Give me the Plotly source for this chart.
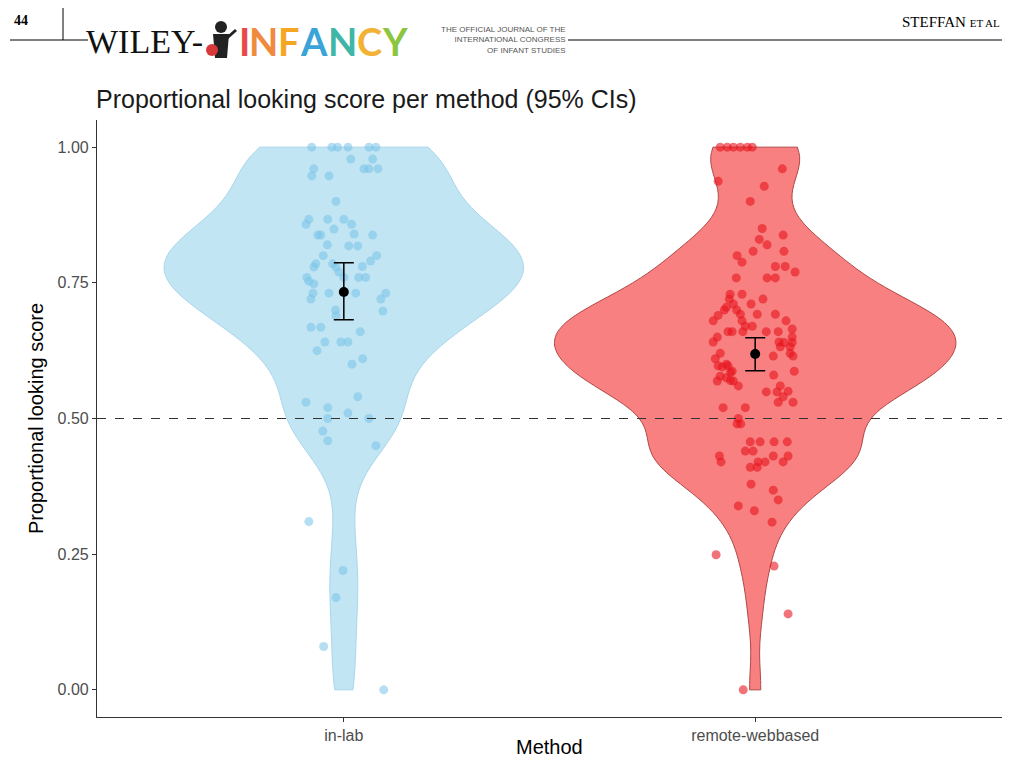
import numpy as np
import plotly.graph_objects as go

# ---------------- data ----------------
categories = ["in-lab", "remote-webbased"]
cat_pos = [1, 2]

inlab_scores = [1.0, 1.0, 1.0, 1.0, 1.0, 1.0, 0.978, 0.978, 0.96, 0.96, 0.96, 0.96,
                0.947, 0.947, 0.90, 0.867, 0.867, 0.867, 0.858, 0.858, 0.849,
                0.84, 0.838, 0.838, 0.838, 0.82, 0.818, 0.818, 0.80, 0.80, 0.79, 0.785, 0.785,
                0.78, 0.779, 0.779, 0.77, 0.76, 0.76, 0.76, 0.76, 0.753, 0.748,
                0.731, 0.731, 0.731, 0.731, 0.72, 0.72, 0.70,
                0.698, 0.689, 0.668, 0.668, 0.66, 0.641, 0.641, 0.641, 0.625, 0.61, 0.60, 0.54, 0.53,
                0.52, 0.51, 0.50, 0.50, 0.477, 0.459, 0.45, 0.31,
                0.22, 0.17, 0.08, 0.0]
inlab_jitter = [-0.078, -0.029, -0.015, 0.010, 0.061, 0.078, 0.017, 0.070, -0.073, 0.049, 0.061, 0.083,
                -0.078, -0.036, -0.019, -0.085, -0.039, 0.0, -0.092, 0.019, -0.024,
                0.025, -0.063, -0.056, 0.070, -0.040, 0.012, 0.034, 0.080, -0.050, 0.065, -0.068, -0.027,
                0.045, -0.073, -0.019, -0.012, -0.090, 0.036, 0.053, 0.0, -0.085, -0.073,
                -0.075, -0.036, 0.029, 0.102, -0.080, 0.090, -0.020,
                0.095, -0.019, -0.080, -0.056, 0.040, -0.046, -0.007, 0.010, -0.065, 0.046, 0.020, 0.034, -0.092,
                -0.039, 0.010, -0.039, 0.061, -0.051, -0.039, 0.078, -0.085,
                -0.002, -0.019, -0.049, 0.097]

remote_scores = [1.0, 1.0, 1.0, 1.0, 1.0, 1.0, 0.96, 0.937, 0.928, 0.90, 0.85, 0.838, 0.83, 0.82,
                 0.808, 0.808, 0.80, 0.788, 0.78, 0.78, 0.77, 0.759, 0.759, 0.759,
                 0.729, 0.729, 0.72, 0.72, 0.711, 0.711, 0.705, 0.70, 0.70, 0.692, 0.692, 0.692, 0.69,
                 0.68, 0.68, 0.68, 0.67, 0.67, 0.665, 0.66, 0.66, 0.66, 0.66, 0.66, 0.65, 0.65,
                 0.641, 0.641, 0.64, 0.64, 0.632, 0.632, 0.62, 0.62, 0.615, 0.615, 0.61, 0.60, 0.597, 0.597,
                 0.595, 0.587, 0.587, 0.585, 0.58, 0.578, 0.575, 0.57, 0.569, 0.569, 0.56, 0.56,
                 0.55, 0.549, 0.549, 0.54, 0.53, 0.53, 0.52, 0.52, 0.50, 0.49, 0.49,
                 0.457, 0.457, 0.457, 0.457, 0.44, 0.44, 0.431, 0.431, 0.431,
                 0.42, 0.42, 0.42, 0.42, 0.41, 0.41, 0.379, 0.368, 0.35, 0.339, 0.33,
                 0.309, 0.249, 0.228, 0.14, 0.0]
remote_jitter = [-0.085, -0.068, -0.053, -0.036, -0.019, -0.007, 0.066, -0.090, 0.022, -0.012, 0.017, 0.068, 0.010, 0.029,
                 -0.005, 0.070, -0.044, -0.032, 0.049, 0.073, 0.097, -0.046, 0.029, 0.049,
                 -0.061, -0.032, -0.063, 0.019, -0.053, -0.010, -0.070, -0.045, -0.075, -0.036, 0.005, 0.049, -0.090,
                 -0.102, -0.032, 0.075, -0.024, -0.007, 0.090, -0.066, -0.056, 0.027, 0.056, -0.030, -0.092, 0.090,
                 -0.102, 0.058, 0.090, 0.070, 0.061, 0.085, 0.085, -0.085, 0.092, 0.044, -0.097, -0.070, -0.090, -0.066,
                 -0.080, -0.056, 0.095, -0.060, 0.045, -0.085, -0.070, -0.060, -0.092, -0.053, -0.041, 0.061,
                 0.080, 0.027, 0.053, 0.068, 0.056, 0.092, -0.078, -0.024, -0.041, -0.044, -0.035,
                 -0.012, 0.012, 0.046, 0.078, -0.024, -0.005, -0.087, 0.044, 0.080,
                 -0.083, 0.007, 0.024, 0.068, -0.012, 0.005, -0.010, 0.044, 0.056, -0.041, -0.002,
                 0.041, -0.095, 0.046, 0.080, -0.029]

means = [0.733, 0.619]
ci_low = [0.682, 0.588]
ci_high = [0.787, 0.649]

y_ticks = [0.0, 0.25, 0.5, 0.75, 1.0]
chance_level = 0.5

# ---------------- styles ----------------
violin_fill = ["#c2e5f4", "#f88080"]
violin_line = ["#a8d6ec", "#b04848"]
point_color = ["rgba(120,195,232,0.55)", "rgba(232,20,30,0.6)"]
violin_width = [0.874, 0.976]
bw_adjust = [1.1, 1.0]

OFF = 8                      # page body offset of the rendered figure
W, H = 1016 - 2 * OFF, 769 - 2 * OFF
L, T = 97 - OFF, 120 - OFF   # screen plot-area left/top = 97 / 120
R = W - (1002 - OFF)         # screen plot-area right = 1002
B = H - (717 - OFF)          # screen plot-area bottom = 717
PW, PH = W - L - R, H - T - B


def px(x):  # screen x -> paper
    return (x - OFF - L) / PW


def py(y):  # screen y -> paper
    return (H - B - (y - OFF)) / PH


def nrd0(v):
    v = np.asarray(v)
    sd = v.std(ddof=1)
    iqr = np.subtract(*np.percentile(v, [75, 25]))
    lo = min(sd, iqr / 1.34) if iqr > 0 else sd
    return 0.9 * lo * len(v) ** (-0.2)


fig = go.Figure()
groups = [(inlab_scores, inlab_jitter), (remote_scores, remote_jitter)]
for i, (vals, jit) in enumerate(groups):
    fig.add_trace(go.Violin(
        x=[cat_pos[i]] * len(vals), y=vals, name=categories[i],
        width=violin_width[i], spanmode="hard", scalemode="width",
        bandwidth=nrd0(vals) * bw_adjust[i],
        fillcolor=violin_fill[i], line=dict(color=violin_line[i], width=1),
        points=False, box_visible=False, meanline_visible=False,
        opacity=1, showlegend=False, hoverinfo="skip"))

for i, (vals, jit) in enumerate(groups):
    fig.add_trace(go.Scatter(
        x=[cat_pos[i] + j for j in jit], y=vals, mode="markers",
        marker=dict(size=9, color=point_color[i], line=dict(width=0)),
        showlegend=False, hoverinfo="skip"))

fig.add_trace(go.Scatter(
    x=cat_pos, y=means, mode="markers",
    marker=dict(size=10, color="black"),
    error_y=dict(type="data", symmetric=False,
                 array=[h - m for h, m in zip(ci_high, means)],
                 arrayminus=[m - l for m, l in zip(means, ci_low)],
                 color="black", thickness=1.5, width=10),
    showlegend=False, hoverinfo="skip"))

shapes = [
    dict(type="line", xref="paper", yref="y", x0=0, x1=1, y0=chance_level, y1=chance_level,
         line=dict(color="#333333", width=1.2, dash="dash"), layer="above"),
    # header rules
    dict(type="line", xref="paper", yref="paper", x0=px(10), x1=px(88), y0=py(40), y1=py(40),
         line=dict(color="black", width=1)),
    dict(type="line", xref="paper", yref="paper", x0=px(63), x1=px(63), y0=py(8), y1=py(40),
         line=dict(color="black", width=1)),
    dict(type="line", xref="paper", yref="paper", x0=px(568), x1=px(1002), y0=py(40), y1=py(40),
         line=dict(color="black", width=1.2)),
    # child silhouette in logo
    dict(type="circle", xref="paper", yref="paper", x0=px(215), x1=px(227), y0=py(21), y1=py(33),
         fillcolor="#222222", line=dict(width=0)),
    dict(type="path", xref="paper", yref="paper",
         path="M {} {} L {} {} L {} {} L {} {} Z".format(px(213), py(34), px(229), py(34), px(227), py(58), px(215), py(58)),
         fillcolor="#222222", line=dict(width=0)),
    dict(type="line", xref="paper", yref="paper", x0=px(227), x1=px(236), y0=py(38), y1=py(30),
         line=dict(color="#222222", width=3)),
    dict(type="circle", xref="paper", yref="paper", x0=px(206), x1=px(218), y0=py(44), y1=py(56),
         fillcolor="#d9383a", line=dict(width=0)),
]

annotations = [
    dict(text="<b>44</b>", x=px(12), y=py(20), xanchor="left", yanchor="middle",
         font=dict(family="Liberation Serif", size=14, color="black")),
    dict(text="WILEY-", x=px(84), y=py(41), xanchor="left", yanchor="middle",
         font=dict(family="Liberation Serif", size=34, color="#111111")),
    dict(text="THE OFFICIAL JOURNAL OF THE<br>INTERNATIONAL CONGRESS<br>OF INFANT STUDIES",
         x=px(568), y=py(40), xanchor="right", yanchor="middle", align="right",
         font=dict(family="Liberation Sans Narrow, Liberation Sans", size=8, color="#555555")),
    dict(text="STEFFAN <span style='font-size:11px'>ET AL</span>", x=px(1002), y=py(22),
         xanchor="right", yanchor="middle",
         font=dict(family="Liberation Serif", size=15, color="black")),
    # x-axis title
    dict(text="Method", x=0.5, y=py(760), xanchor="center", yanchor="bottom",
         font=dict(family="Liberation Sans", size=20, color="black")),
]

letters = ["I", "N", "F", "A", "N", "C", "Y"]
letter_colors = ["#e84a4a", "#f08a3c", "#f5a623", "#3aa3d8", "#3fb6a8", "#f2b233", "#8cc63f"]
letter_x = [244, 263, 289, 314, 342, 369, 395]
for ch, col, lx in zip(letters, letter_colors, letter_x):
    annotations.append(dict(text="<b>" + ch + "</b>", x=px(lx), y=py(41), xanchor="center", yanchor="middle",
                            font=dict(family="Lato", size=38, color=col)))

fig.update_layout(
    width=W, height=H,
    margin=dict(l=L, r=R, t=T, b=B, autoexpand=False),
    paper_bgcolor="white", plot_bgcolor="white",
    violinmode="overlay",
    font=dict(family="Liberation Sans", color="black"),
    title=dict(text="Proportional looking score per method (95% CIs)",
               x=(96 - OFF) / W, xref="container", xanchor="left",
               y=1 - (99 - OFF) / H, yref="container", yanchor="middle",
               font=dict(size=25, color="#1a1a1a")),
    xaxis=dict(range=[0.4, 2.6], tickvals=cat_pos, ticktext=categories, automargin=False,
               showline=True, linecolor="#333333", linewidth=1.2, mirror=False,
               ticks="outside", ticklen=4, tickcolor="#333333", showgrid=False, zeroline=False,
               tickfont=dict(size=16, color="#4d4d4d")),
    yaxis=dict(range=[-0.05, 1.05], tickvals=y_ticks, tickformat=".2f", automargin=False,
               showline=True, linecolor="#333333", linewidth=1.2,
               ticks="outside", ticklen=4, tickcolor="#333333", showgrid=False, zeroline=False,
               tickfont=dict(size=16, color="#4d4d4d"),
               title=dict(text="Proportional looking score", font=dict(size=20, color="black"), standoff=8)),
    shapes=shapes,
    annotations=[dict(a, xref="paper", yref="paper", showarrow=False) for a in annotations],
)

fig.write_html("out.html")
